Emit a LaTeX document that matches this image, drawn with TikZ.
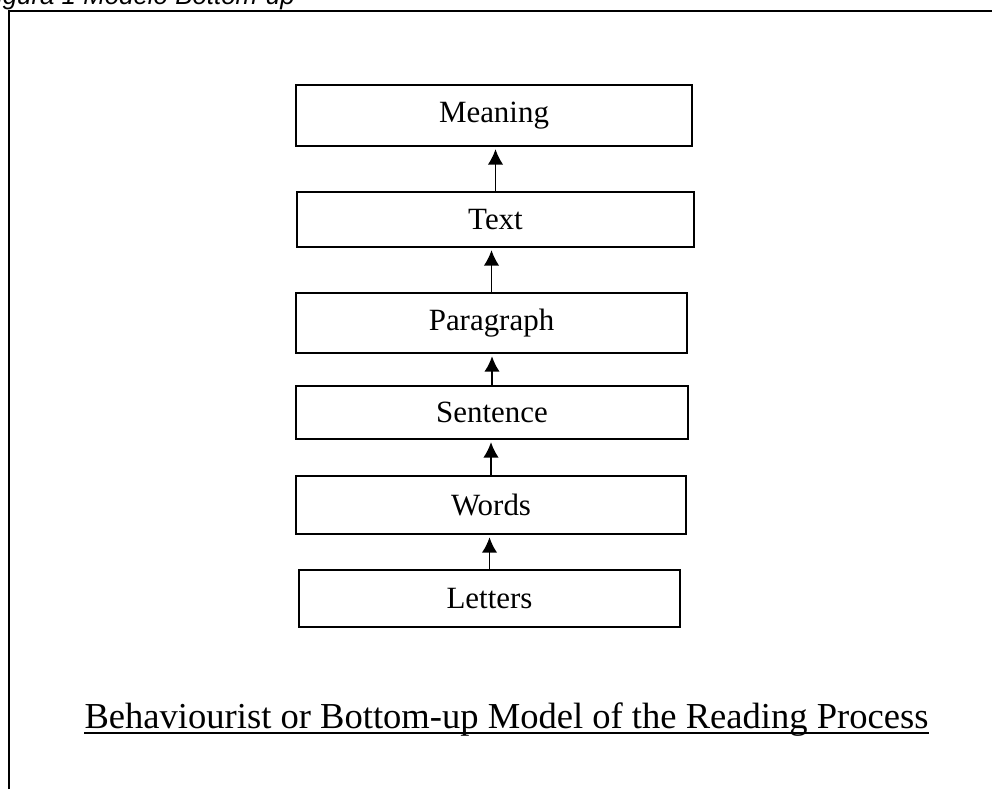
\documentclass[tikz,border=0pt]{standalone}
\usepackage{fontspec}
\setmainfont{Liberation Serif}
\setsansfont{Liberation Sans}
\usetikzlibrary{arrows.meta}
\tikzset{%
    lvl/.style={draw, line width=1.6pt, inner sep=0pt,
        font=\fontsize{22}{26}\selectfont},
    up/.style={line width=1.2pt, -{Latex[length=11pt,width=11pt]}, shorten >=1.5pt}
}

\begin{document}
\begin{tikzpicture}[x=0.025cm, y=-0.025cm]
        \useasboundingbox (0,0) rectangle (992,789);

        \begin{scope}
            \clip (0,0) rectangle (992,789);
            \node[font=\sffamily\itshape\fontsize{18.4}{22}\selectfont, anchor=base east, inner sep=0pt] (cap) at (295,5) {Figura 1 Modelo Bottom-up};
        \end{scope}
        \draw[line width=2pt] (9,789) -- (9,11) -- (992,11);

        \node[lvl, minimum width=9.9cm, minimum height=1.52cm] (mean) at (494,115.5) {Meaning};
        \node[lvl, minimum width=9.92cm, minimum height=1.37cm] (text) at (495.5,219.5) {Text};
        \node[lvl, minimum width=9.77cm, minimum height=1.5cm] (para) at (491.5,323) {Paragraph};
        \node[lvl, minimum width=9.8cm, minimum height=1.32cm] (sent) at (492,412.5) {Sentence};
        \node[lvl, minimum width=9.75cm, minimum height=1.45cm] (words) at (491,505) {Words};
        \node[lvl, minimum width=9.52cm, minimum height=1.42cm] (lett) at (489.5,598.5) {Letters};

        \draw[up] (lett.north) -- (lett.north |- words.south);
        \draw[up] (words.north) -- (words.north |- sent.south);
        \draw[up] (sent.north) -- (sent.north |- para.south);
        \draw[up] (para.north) -- (para.north |- text.south);
        \draw[up] (text.north) -- (text.north |- mean.south);

        \node[font=\fontsize{26}{30}\selectfont, anchor=base, inner sep=0pt] (title) at (506.5,728) {Behaviourist or Bottom-up Model of the Reading Process};
        \draw[line width=1.1pt] ([yshift=-0.13cm]title.base west) -- ([yshift=-0.13cm]title.base east);
    \end{tikzpicture}
\end{document}
